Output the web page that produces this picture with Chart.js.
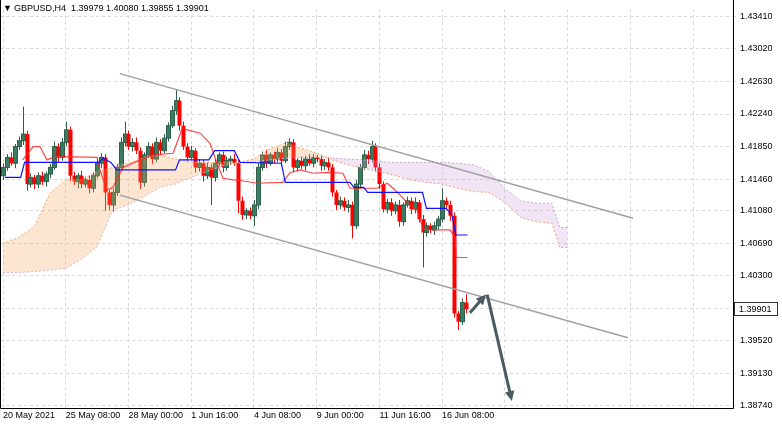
<!DOCTYPE html>
<html><head><meta charset="utf-8">
<script src="https://cdn.jsdelivr.net/npm/chart.js@4.4.1/dist/chart.umd.min.js"></script>
<style>html,body{margin:0;padding:0;background:#fff}#w{position:relative;width:782px;height:428px}</style>
</head><body><div id="w"><canvas id="c" width="782" height="428"></canvas></div>
<script>
const firstOpen = 1.4150;
const closes = [1.4160,1.4172,1.4165,1.4185,1.4192,1.4200,1.4140,1.4148,1.4140,1.4150,
 1.4143,1.4152,1.4160,1.4185,1.4172,1.4190,1.4205,1.4150,1.4143,1.4150,
 1.4140,1.4145,1.4135,1.4150,1.4165,1.4172,1.4130,1.4115,1.4130,1.4160,
 1.4190,1.4200,1.4185,1.4190,1.4180,1.4142,1.4175,1.4185,1.4170,1.4190,
 1.4180,1.4195,1.4210,1.4228,1.4240,1.4210,1.4185,1.4172,1.4180,1.4160,
 1.4165,1.4150,1.4160,1.4148,1.4165,1.4175,1.4160,1.4168,1.4170,1.4165,
 1.4120,1.4103,1.4108,1.4102,1.4115,1.4160,1.4175,1.4165,1.4175,1.4170,
 1.4178,1.4168,1.4185,1.4190,1.4160,1.4168,1.4162,1.4170,1.4165,1.4172,
 1.4170,1.4162,1.4166,1.4160,1.4130,1.4115,1.4120,1.4112,1.4115,1.4090,
 1.4140,1.4160,1.4175,1.4170,1.4185,1.4160,1.4140,1.4110,1.4118,1.4108,
 1.4115,1.4095,1.4115,1.4120,1.4110,1.4118,1.4098,1.4082,1.4090,1.4085,
 1.4090,1.4098,1.4120,1.4115,1.4102,1.3985,1.3975,1.39979,1.39901];
const wickUp = [5,4,6,3,5,33,4,5,3,4, 5,3,4,6,4,5,10,4,5,3, 6,4,5,4,6,5,4,3,5,4, 6,15,4,5,6,4,3,5,4,6, 4,5,4,6,13,4,5,4,6,3, 5,4,6,4,5,3,4,5,4,6, 4,5,3,4,6,5,4,6,3,4, 5,4,6,5,4,3,5,4,6,4, 3,5,4,6,4,3,5,4,6,4, 5,4,6,5,7,4,5,3,4,5, 4,6,3,5,4,6,3,5,4,3, 5,4,15,4,5,4,3,5,10];
const wickDn = [5,4,3,6,4,5,8,4,6,5, 4,6,5,3,6,4,5,6,4,8, 5,4,6,5,3,6,22,6,8,4, 3,5,4,6,4,8,5,3,6,4, 5,3,4,3,5,6,4,5,3,6, 5,7,4,33,5,4,6,4,5,3, 15,6,5,4,12,5,4,6,3,5, 4,6,3,4,6,5,4,6,3,5, 4,6,5,4,5,6,5,4,6,15, 4,5,3,6,4,5,6,4,5,6, 4,6,5,3,6,5,4,42,5,4, 6,5,4,5,6,5,10,4,5];
const tenkan = [[5,1.4169],[7.7,1.4185],[9.4,1.4185],[11.2,1.4169],[12.8,1.4172],[15,1.4173],[24,1.4172],[24.7,1.4157],[26.5,1.4133],[28,1.4136],[30.6,1.4160],[35,1.4169],[38.3,1.4175],[43.4,1.4177],[45.7,1.4207],[47,1.4205],[50.3,1.4201],[52.8,1.4189],[54.6,1.4165],[56.1,1.4147],[58.7,1.4145],[61,1.4144],[64.8,1.4141],[71.4,1.4142],[73.2,1.4154],[75.8,1.4157],[79.1,1.4153],[82.7,1.4154],[86.7,1.4153],[88.5,1.4135],[95.4,1.4135],[98,1.4141],[100,1.4133],[103.1,1.4118],[105.6,1.4109],[107.1,1.4087],[109,1.4085],[114,1.4085],[115.3,1.4076],[115.6,1.4052],[118.4,1.4052]];
const kijun = [[0.5,1.4148],[4.5,1.4148],[5.5,1.4166],[24.5,1.4166],[25.5,1.4171],[27.5,1.4166],[29,1.4157],[44,1.4157],[45,1.4169],[52.5,1.4169],[54,1.4180],[59,1.4180],[60.5,1.4166],[71,1.4165],[72,1.4142],[88.5,1.4142],[89.5,1.4136],[92,1.4136],[93,1.4130],[107,1.4130],[108,1.4111],[113,1.4111],[114.5,1.4103],[115.5,1.4079],[118.5,1.4079]];
const cloudIdx = [0,4,8,12,16,20,24,28,32,36,40,44,48,52,56,60,64,68,72,76,80,84,88,92,96,100,104,108,112,116,120,124,128,132,136,140,142,144];
const spanA = [1.4069,1.4076,1.4089,1.4129,1.4145,1.4145,1.4155,1.4160,1.4165,1.4172,1.4175,1.4170,1.4166,1.4166,1.4166,1.4166,1.4170,1.4182,1.4189,1.4183,1.4177,1.4169,1.4163,1.4159,1.4155,1.4150,1.4145,1.4142,1.4140,1.4135,1.4131,1.4130,1.4118,1.4100,1.4095,1.4093,1.4064,1.4064];
const spanB = [1.4034,1.4034,1.4035,1.4037,1.4039,1.4050,1.4065,1.4109,1.4115,1.4125,1.4136,1.4140,1.4148,1.4155,1.4162,1.4166,1.4167,1.4169,1.4171,1.4172,1.4172,1.4171,1.4170,1.4169,1.4167,1.4166,1.4166,1.4166,1.4166,1.4165,1.4163,1.4155,1.4135,1.4120,1.4117,1.4117,1.4088,1.4088];
const bullCloudEnd = 21;
const channelUpper = [[29.8,1.42724],[160.7,1.40991]];
const channelLower = [[29.8,1.41268],[159.4,1.39559]];
const arrowShort = [[119.1,1.39859],[123.2,1.40076]];
const arrowLong = [[123.5,1.40076],[129.8,1.38800]];
const yTicks = [1.43410,1.43020,1.42630,1.42240,1.41850,1.41460,1.41080,1.40690,1.40300,1.39910,1.39520,1.39130,1.38740];
const xTickIdx = [0,16,32,48,64,80,96,112,128,144,160,176];
const xTickLabels = ['20 May 2021','25 May 08:00','28 May 00:00','1 Jun 16:00','4 Jun 08:00','9 Jun 00:00','11 Jun 16:00','16 Jun 08:00','','','',''];
const lastPrice = 1.39901;
const header = 'GBPUSD,H4  1.39979 1.40080 1.39855 1.39901';

const pts = a=>a.map(p=>({x:p[0],y:p[1]}));
const sliceXY = (ys,a,b)=>cloudIdx.slice(a,b).map((v,i)=>({x:v,y:ys[a+i]}));

const candlePlugin = {id:'candles',
 beforeDatasetsDraw(ch){
  const ctx=ch.ctx,x=ch.scales.x,y=ch.scales.y,a=ch.chartArea;
  ctx.save();ctx.beginPath();ctx.rect(a.left,a.top,a.right-a.left,a.bottom-a.top);ctx.clip();
  let o=firstOpen;
  closes.forEach((c,i)=>{
   const hi=Math.max(o,c)+wickUp[i]*0.0001, lo=Math.min(o,c)-wickDn[i]*0.0001;
   const px=Math.round(x.getPixelForValue(i));
   const up=c>=o, col=up?'#2f5f4a':'#ff0000';
   ctx.fillStyle=col;
   ctx.fillRect(px,y.getPixelForValue(hi),1,y.getPixelForValue(lo)-y.getPixelForValue(hi));
   const t=y.getPixelForValue(Math.max(o,c)), b=y.getPixelForValue(Math.min(o,c));
   if(up){ctx.fillStyle='#3a7d5e';ctx.fillRect(px-1,t,3,Math.max(1,b-t));ctx.strokeStyle='#2f5f4a';ctx.lineWidth=1;ctx.strokeRect(px-1.5,t,4,Math.max(1,b-t));}
   else {ctx.fillStyle=col;ctx.fillRect(px-1.5,t,4,Math.max(1,b-t));}
   o=c;
  });
  ctx.restore();
 },
 afterDraw(ch){
  const ctx=ch.ctx,y=ch.scales.y,a=ch.chartArea;
  ctx.save();
  ctx.strokeStyle='#000';ctx.lineWidth=1;ctx.beginPath();ctx.moveTo(a.left+0.5,0);ctx.lineTo(a.left+0.5,a.bottom+0.5);ctx.lineTo(a.right+0.5,a.bottom+0.5);ctx.lineTo(a.right+0.5,0);ctx.stroke();
  const py=Math.round(y.getPixelForValue(lastPrice));
  ctx.fillStyle='#fff';ctx.fillRect(a.right+1,py-7,44,14);
  ctx.strokeStyle='#333';ctx.strokeRect(a.right+1.5,py-6.5,43,13);
  ctx.fillStyle='#000';ctx.font='9px "Liberation Sans"';ctx.textBaseline='middle';ctx.fillText(lastPrice.toFixed(5),a.right+6,py+0.5);
  ctx.font='9px "Liberation Sans"';ctx.textBaseline='top';ctx.fillText('▼',3,4);ctx.fillText(header,14,4);
  ctx.restore();
 },
 afterDatasetsDraw(ch){
  const ctx=ch.ctx,x=ch.scales.x,y=ch.scales.y;
  function arrow(p,w){const x0=x.getPixelForValue(p[0][0]),y0=y.getPixelForValue(p[0][1]),x1=x.getPixelForValue(p[1][0]),y1=y.getPixelForValue(p[1][1]);
   const ang=Math.atan2(y1-y0,x1-x0);ctx.strokeStyle='#4a5a62';ctx.fillStyle='#4a5a62';ctx.lineWidth=w;
   ctx.beginPath();ctx.moveTo(x0,y0);ctx.lineTo(x1-Math.cos(ang)*6,y1-Math.sin(ang)*6);ctx.stroke();
   ctx.beginPath();ctx.moveTo(x1,y1);ctx.lineTo(x1-Math.cos(ang-0.45)*11,y1-Math.sin(ang-0.45)*11);ctx.lineTo(x1-Math.cos(ang+0.45)*11,y1-Math.sin(ang+0.45)*11);ctx.closePath();ctx.fill();}
  ctx.save();arrow(arrowShort,3);arrow(arrowLong,3);ctx.restore();
 }
};

new Chart(document.getElementById('c'),{
 type:'line',
 data:{datasets:[
  {data:sliceXY(spanA,0,bullCloudEnd+1),borderColor:'#f4a46a',borderWidth:1,borderDash:[2,2],pointRadius:0,backgroundColor:'rgba(245,160,90,0.28)',fill:'+1',order:5},
  {data:sliceXY(spanB,0,bullCloudEnd+1),borderColor:'#d8b8e0',borderWidth:1,borderDash:[2,2],pointRadius:0,fill:false,order:5},
  {data:sliceXY(spanB,bullCloudEnd,cloudIdx.length),borderColor:'#c9a0d6',borderWidth:1,borderDash:[2,2],pointRadius:0,backgroundColor:'rgba(200,150,215,0.25)',fill:'+1',order:5},
  {data:sliceXY(spanA,bullCloudEnd,cloudIdx.length),borderColor:'#f4a46a',borderWidth:1,borderDash:[2,2],pointRadius:0,fill:false,order:5},
  {data:pts(tenkan),borderColor:'rgba(255,40,40,0.85)',borderWidth:1.2,pointRadius:0,fill:false,order:2},
  {data:pts(kijun),borderColor:'#1010ff',borderWidth:1.2,pointRadius:0,fill:false,order:1},
  {data:pts(channelUpper),borderColor:'#a0a0a0',borderWidth:1.5,pointRadius:0,fill:false},
  {data:pts(channelLower),borderColor:'#a0a0a0',borderWidth:1.5,pointRadius:0,fill:false}
 ]},
 options:{responsive:false,animation:false,events:[],
  layout:{padding:0},
  plugins:{legend:{display:false},tooltip:{enabled:false}},
  scales:{
   x:{type:'linear',min:-0.77,max:186.2,
    afterBuildTicks(s){s.ticks=xTickIdx.map(v=>({value:v}));},
    afterFit(s){s.height=20;},
    ticks:{autoSkip:false,maxRotation:0,align:'start',padding:2,color:'#000',font:{family:'Liberation Sans',size:9},callback:(v,i)=>xTickLabels[i]},
    grid:{color:'#d8d8d8',tickLength:0,drawTicks:false},border:{display:false,dash:[3,3]}},
   y:{position:'right',min:1.38716,max:1.43494,
    afterBuildTicks(s){s.ticks=yTicks.map(v=>({value:v}));},
    afterFit(s){s.width=49;},
    ticks:{padding:4,color:'#000',font:{family:'Liberation Sans',size:9},callback:v=>v.toFixed(5)},
    grid:{color:'#d8d8d8',tickLength:3,drawTicks:true},border:{display:false,dash:[3,3]}}
  }
 },
 plugins:[candlePlugin]
});
</script></body></html>
